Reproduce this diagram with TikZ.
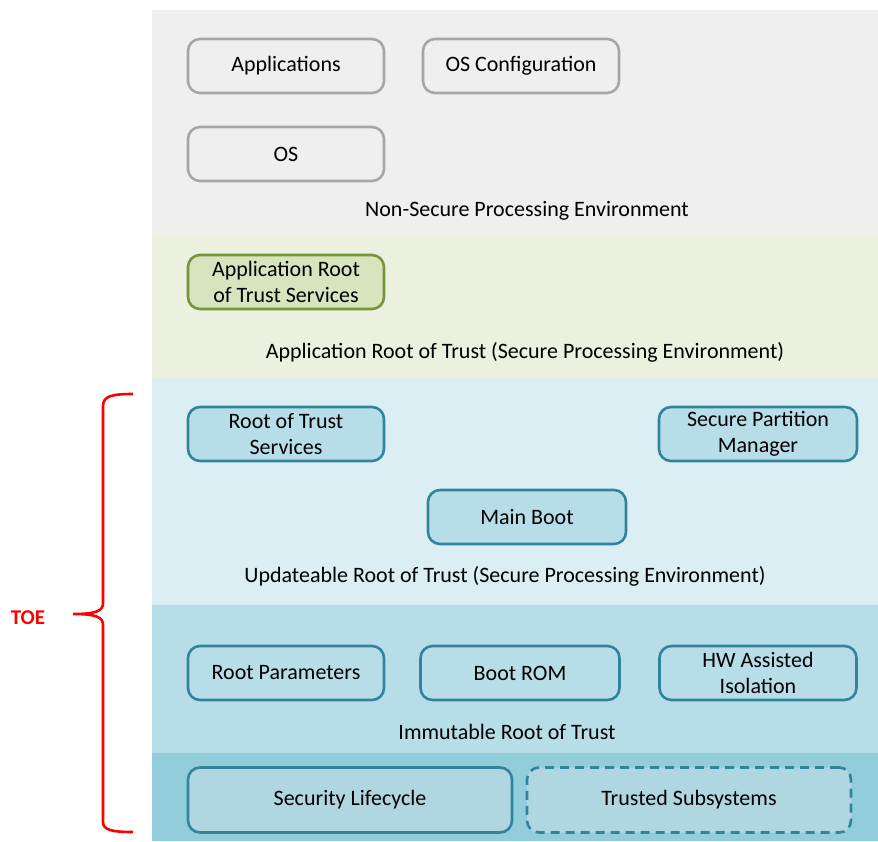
\documentclass[tikz,border=0pt]{standalone}
\usepackage{fontspec}
\setmainfont{Carlito}
\definecolor{nsband}{HTML}{EFEFEF}
\definecolor{nsline}{HTML}{A6A6A6}
\definecolor{appband}{HTML}{EBF1DE}
\definecolor{appfill}{HTML}{D7E4BD}
\definecolor{appline}{HTML}{77933C}
\definecolor{updband}{HTML}{DAEEF3}
\definecolor{rotfill}{HTML}{B7DEE8}
\definecolor{rotline}{HTML}{31849B}
\definecolor{immband}{HTML}{B7DEE8}
\definecolor{hwband}{HTML}{92CDDC}
\definecolor{hwfill}{HTML}{B0D6E1}
\definecolor{toered}{HTML}{FF0000}
\begin{document}
\begin{tikzpicture}[x=1pt,y=-1pt,font=\fontsize{22}{26}\selectfont]
        \tikzstyle{band}=[draw=none,inner sep=0pt,anchor=north west,minimum width=726pt]
        \tikzstyle{comp}=[rounded corners=12pt,line width=2.6pt,minimum width=196pt,minimum height=54pt,align=center,inner sep=0pt]
        \tikzstyle{nsbox}=[comp,draw=nsline,fill=nsband]
        \tikzstyle{appbox}=[comp,draw=appline,fill=appfill]
        \tikzstyle{rotbox}=[comp,draw=rotline,fill=rotfill]
        \tikzstyle{hwbox}=[comp,draw=rotline,fill=hwfill,minimum width=324pt,minimum height=65pt]
        \useasboundingbox (0,0) rectangle (878,841);
        % layers
        \node[band,fill=nsband,minimum height=224pt] (nsl) at (152,10) {};
        \node[band,fill=appband,minimum height=144pt] (appl) at (152,234) {};
        \node[band,fill=updband,minimum height=227pt] (updl) at (152,378) {};
        \node[band,fill=immband,minimum height=148pt] (imml) at (152,605) {};
        \node[band,fill=hwband,minimum height=88pt] (hwl) at (152,753) {};
        % non-secure
        \node[nsbox] (apps) at (286,66) {Applications};
        \node[nsbox] (oscfg) at (521,66) {OS Configuration};
        \node[nsbox] (os) at (286,154) {OS};
        \node (nslabel) at (527,211) {Non-Secure Processing Environment};
        % application rot
        \node[appbox] (arot) at (286,282) {Application Root\\of Trust Services};
        \node (applabel) at (525,352) {Application Root of Trust (Secure Processing Environment)};
        % updateable rot
        \node[rotbox] (rots) at (286,434) {Root of Trust\\Services};
        \node[rotbox,minimum width=198pt] (spm) at (758,434) {Secure Partition\\Manager};
        \node[rotbox,minimum width=198pt] (mboot) at (527,517) {Main Boot};
        \node (updlabel) at (505,576) {Updateable Root of Trust (Secure Processing Environment)};
        % immutable rot
        \node[rotbox] (rparam) at (286,673) {Root Parameters};
        \node[rotbox,minimum width=199pt] (brom) at (520,673) {Boot ROM};
        \node[rotbox,minimum width=197pt] (hwiso) at (758,673) {HW Assisted\\Isolation};
        \node (immlabel) at (507,732) {Immutable Root of Trust};
        \node[hwbox] (lifecycle) at (350,800) {Security Lifecycle};
        \node[hwbox,dashed,dash pattern=on 9pt off 6pt] (subsys) at (689,800) {Trusted Subsystems};
        % toe brace
        \coordinate (btop) at (133,394);
        \coordinate (btip) at (73,614);
        \coordinate (bbot) at (133,832);
        \draw[toered,line width=2.6pt] (btop) .. controls (112,394) and (103,396) .. (103,406) -- (103,603)
          .. controls (103,611) and (96,614) .. (btip)
          .. controls (96,614) and (103,617) .. (103,625) -- (103,822)
          .. controls (103,830) and (112,832) .. (bbot);
        \node[text=toered,font=\fontsize{21}{24}\selectfont\bfseries] (toe) at (28,618) {TOE};
      \end{tikzpicture}
\end{document}
